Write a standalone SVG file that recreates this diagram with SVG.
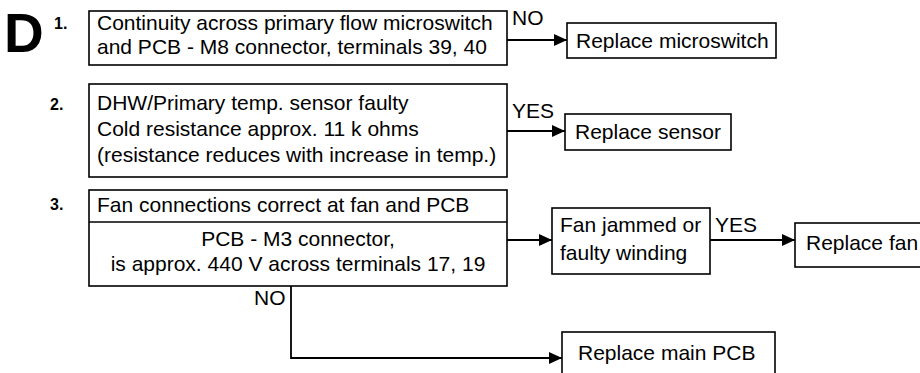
<svg xmlns="http://www.w3.org/2000/svg" width="920" height="373" viewBox="0 0 920 373">
<defs>
<marker id="ah" markerWidth="14" markerHeight="12" refX="13" refY="6" orient="auto" markerUnits="userSpaceOnUse">
<path d="M0,0 L13,6 L0,12 Z" fill="#000"/>
</marker>
<style>
.box{fill:#fff;stroke:#000;stroke-width:1.6}
.t{font-family:"Liberation Sans",Arial,sans-serif;font-size:21px;fill:#000}
.n{font-family:"Liberation Sans",Arial,sans-serif;font-size:16px;font-weight:bold;fill:#000}
.c{fill:none;stroke:#000;stroke-width:1.8}
</style>
</defs>
<rect width="920" height="373" fill="#fff"/>
<text x="4" y="52" font-family="Liberation Sans,Arial,sans-serif" font-size="55" font-weight="bold">D</text>
<text class="n" x="54" y="29">1.</text>
<text class="n" x="50" y="110">2.</text>
<text class="n" x="50" y="210">3.</text>
<g id="connectors">
<line class="c" x1="507" y1="40" x2="567" y2="40" marker-end="url(#ah)"/>
<line class="c" x1="507" y1="131" x2="565" y2="131" marker-end="url(#ah)"/>
<line class="c" x1="507" y1="240" x2="552" y2="240" marker-end="url(#ah)"/>
<line class="c" x1="710" y1="240" x2="795" y2="240" marker-end="url(#ah)"/>
<polyline class="c" points="291,286 291,358 562,358" marker-end="url(#ah)"/>
<text class="t" x="512" y="25">NO</text>
<text class="t" x="512" y="118">YES</text>
<text class="t" x="715" y="232">YES</text>
<text class="t" x="254" y="305">NO</text>
</g>
<g id="q1">
<rect class="box" x="89" y="11" width="418" height="54"/>
<text class="t" x="97" y="30">Continuity across primary flow microswitch</text>
<text class="t" x="97" y="54">and PCB - M8 connector, terminals 39, 40</text>
</g>
<g id="r1">
<rect class="box" x="567" y="23" width="209" height="35"/>
<text class="t" x="576" y="48">Replace microswitch</text>
</g>
<g id="q2">
<rect class="box" x="89" y="84" width="418" height="93"/>
<text class="t" x="97" y="110">DHW/Primary temp. sensor faulty</text>
<text class="t" x="97" y="136">Cold resistance approx. 11 k ohms</text>
<text class="t" x="97" y="162">(resistance reduces with increase in temp.)</text>
</g>
<g id="r2">
<rect class="box" x="565" y="114" width="166" height="36"/>
<text class="t" x="575" y="139">Replace sensor</text>
</g>
<g id="q3">
<rect class="box" x="89" y="190" width="418" height="96"/>
<line x1="89" y1="222" x2="507" y2="222" stroke="#000" stroke-width="1.4"/>
<text class="t" x="97" y="212">Fan connections correct at fan and PCB</text>
<text class="t" x="298" y="246" text-anchor="middle">PCB - M3 connector,</text>
<text class="t" x="298" y="271" text-anchor="middle">is approx. 440 V across terminals 17, 19</text>
</g>
<g id="q4">
<rect class="box" x="552" y="208" width="158" height="66"/>
<text class="t" x="560" y="232">Fan jammed or</text>
<text class="t" x="560" y="260">faulty winding</text>
</g>
<g id="r3">
<rect class="box" x="795" y="223" width="140" height="44"/>
<text class="t" x="806" y="250">Replace fan</text>
</g>
<g id="r4">
<rect class="box" x="562" y="332" width="213" height="50"/>
<text class="t" x="578" y="360">Replace main PCB</text>
</g>
</svg>
